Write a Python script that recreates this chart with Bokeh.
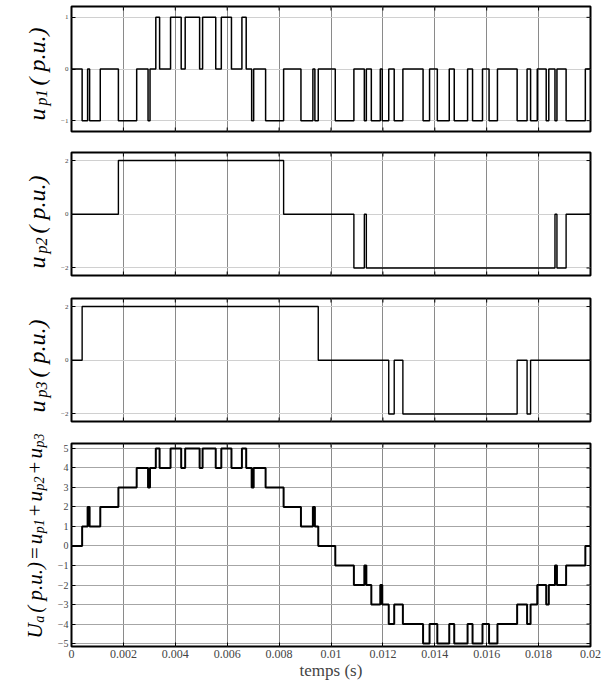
import bisect
from math import pi
from bokeh.plotting import figure
from bokeh.layouts import column, row
from bokeh.models import FixedTicker, LinearAxis, Range1d, Grid
from bokeh.core.properties import value
from bokeh.embed import file_html
from bokeh.resources import INLINE

# ---------------- data (switching instants in s, level held after each instant) -------------
up1_t = [0.0, 0.000410, 0.000621, 0.000698, 0.001109, 0.001807, 0.002512, 0.002950, 0.003026,
         0.003249, 0.003395, 0.003817, 0.004227, 0.004381, 0.004937, 0.005052, 0.005558,
         0.005773, 0.006164, 0.006567, 0.006732, 0.006943, 0.007020, 0.007480, 0.008174,
         0.008842, 0.009302, 0.009379, 0.009509, 0.010165, 0.010882, 0.011285, 0.011362,
         0.011554, 0.011899, 0.011976, 0.012225, 0.012436, 0.012770, 0.013548, 0.013798,
         0.014097, 0.014557, 0.014749, 0.015263, 0.015455, 0.015838, 0.016091, 0.016414,
         0.017173, 0.017556, 0.017691, 0.017948, 0.018293, 0.018393, 0.018631, 0.018707,
         0.019060, 0.019801]
up1_v = [0, -1, 0, -1, 0, -1, 0, -1, 0,
         1, 0, 1, 0, 1, 0, 1, 0,
         1, 0, 1, 0, -1, 0, -1, 0,
         -1, 0, -1, 0, -1, 0, -1, 0,
         -1, 0, -1, 0, -1, 0, -1, 0,
         -1, 0, -1, 0, -1, 0, -1, 0,
         -1, 0, -1, 0, -1, 0, -1, 0,
         -1, 0]

up2_t = [0.0, 0.001807, 0.008174, 0.010882, 0.011285, 0.011362, 0.018631, 0.018707, 0.019060]
up2_v = [0, 2, 0, -2, 0, -2, 0, -2, 0]

up3_t = [0.0, 0.000410, 0.009509, 0.012225, 0.012436, 0.012770, 0.017173, 0.017556, 0.017691]
up3_v = [0, 2, 0, -2, 0, -2, 0, -2, 0]

T_END = 0.02
x_ticks = [0.0, 0.002, 0.004, 0.006, 0.008, 0.01, 0.012, 0.014, 0.016, 0.018, 0.02]
x_tick_labels = ["0", "0.002", "0.004", "0.006", "0.008", "0.01", "0.012", "0.014",
                 "0.016", "0.018", "0.02"]
y1_ticks = [-1, 0, 1]
y2_ticks = [-2, 0, 2]
y3_ticks = [-2, 0, 2]
y4_ticks = [-5, -4, -3, -2, -1, 0, 1, 2, 3, 4, 5]
x_label = "temps (s)"


def level_at(ts, vs, t):
    return vs[bisect.bisect_right(ts, t) - 1]


# Ua = up1 + up2 + up3 (the definition given in the y label)
ua_t = sorted(set(up1_t + up2_t + up3_t))
ua_v = [level_at(up1_t, up1_v, t) + level_at(up2_t, up2_v, t) + level_at(up3_t, up3_v, t)
        for t in ua_t]

# ---------------- styling / layout -------------
FONT = "Liberation Serif"
LW = 54            # width of the strip holding the rotated y labels
B_LEFT = 15
B_RIGHT = 15
MW = B_LEFT + 521 + B_RIGHT   # width of each panel figure
H1, H2, H3, H4 = 141, 146, 145, 250
H_LAB = H1 + H2 + H3 + H4

# Times-like advance widths (em) for composing the rotated labels
ADV = {"u": 0.5, "p": 0.5, "a": 0.5, "U": 0.722, ".": 0.25, "(": 0.333, ")": 0.333,
       " ": 0.25, "1": 0.5, "2": 0.5, "3": 0.5, "=": 0.564, "+": 0.564}


def text_len(s, size):
    return sum(ADV.get(c, 0.5) for c in s) * size


def base_fig(w, h, xr, yr, borders):
    p = figure(width=w, height=h, x_range=Range1d(*xr), y_range=Range1d(*yr),
               title=None, output_backend="svg", toolbar_location=None,
               x_axis_location=None, y_axis_location=None,
               min_border_left=borders[0], min_border_right=borders[1],
               min_border_top=borders[2], min_border_bottom=borders[3])
    p.xgrid.visible = False
    p.ygrid.visible = False
    p.background_fill_color = "white"
    p.border_fill_color = "white"
    return p


def make_fig(height, b_top, b_bottom, yr, yticks, hgrid_color, ylab_size):
    p = base_fig(MW, height, (0, T_END), yr, (B_LEFT, B_RIGHT, b_top, b_bottom))
    p.outline_line_color = "black"
    p.outline_line_width = 2
    p.add_layout(Grid(dimension=0, ticker=FixedTicker(ticks=x_ticks),
                      grid_line_color="#8a8a8a", grid_line_width=1))
    p.add_layout(Grid(dimension=1, ticker=FixedTicker(ticks=yticks),
                      grid_line_color=hgrid_color, grid_line_width=1))
    ax = LinearAxis(ticker=FixedTicker(ticks=yticks), major_tick_in=4, major_tick_out=0,
                    minor_tick_line_color=None, axis_line_color=None,
                    major_label_text_font=FONT, major_label_text_font_size=ylab_size,
                    major_label_standoff=3)
    p.add_layout(ax, "left")
    # inward tick marks on the top and right edges
    p.scatter(x=x_ticks, y=[yr[1]] * len(x_ticks), marker="dash", angle=pi / 2,
              size=8, line_color="black", line_width=1)
    p.scatter(x=[T_END] * len(yticks), y=yticks, marker="dash", size=8,
              line_color="black", line_width=1)
    return p


def step_line(p, ts, vs, lw):
    p.step(x=ts + [T_END], y=vs + [vs[-1]], mode="after", line_color="black", line_width=lw)


Y1R, Y2R, Y3R, Y4R = (-1.21, 1.21), (-2.28, 2.3), (-2.28, 2.3), (-5.15, 5.25)
f1 = make_fig(H1, 6, 10, Y1R, y1_ticks, "#d0d0d0", "7px")
f2 = make_fig(H2, 11, 12, Y2R, y2_ticks, "#d0d0d0", "7px")
f3 = make_fig(H3, 11, 11, Y3R, y3_ticks, "#d0d0d0", "7px")
f4 = make_fig(H4, 11, 35, Y4R, y4_ticks, "#a6a6a6", "10px")

for f, yr in ((f1, Y1R), (f2, Y2R), (f3, Y3R)):
    f.scatter(x=x_ticks, y=[yr[0]] * len(x_ticks), marker="dash", angle=pi / 2,
              size=8, line_color="black", line_width=1)

bx = LinearAxis(ticker=FixedTicker(ticks=x_ticks), major_tick_in=4, major_tick_out=0,
                minor_tick_line_color=None, axis_line_color=None,
                major_label_overrides=dict(zip(x_ticks, x_tick_labels)),
                major_label_text_font=FONT, major_label_text_font_size="12px",
                major_label_standoff=3,
                axis_label=x_label, axis_label_text_font=FONT,
                axis_label_text_font_size="17px", axis_label_text_font_style="normal",
                axis_label_standoff=0)
f4.add_layout(bx, "below")

step_line(f1, up1_t, up1_v, 1.5)
step_line(f2, up2_t, up2_v, 1.4)
step_line(f3, up3_t, up3_v, 1.4)
step_line(f4, ua_t, ua_v, 2.0)

# ---------------- rotated y labels (composed pieces, page coordinates) -------------
lab = base_fig(LW, H_LAB, (0, LW), (0, H_LAB), (0, 0, 0, 0))
lab.outline_line_color = None


def vlabel(pieces, base_x, start_y):
    pos = start_y
    for text, size, italic, sub, gap in pieces:
        lab.text(x=[base_x + (5 if sub else 0)], y=[H_LAB - pos], text=[text], angle=pi / 2,
                 text_font=value(FONT), text_font_size=value(f"{size}px"),
                 text_font_style=value("italic" if italic else "normal"),
                 text_align=value("left"), text_baseline=value("alphabetic"),
                 text_color="black")
        pos -= text_len(text, size) + gap


vlabel([("u", 24, True, False, 3), ("p1", 16, True, True, 4),
        ("( p.u.)", 24, True, False, 0)], 36, 120)
vlabel([("u", 24, True, False, 3), ("p2", 16, True, True, 4),
        ("( p.u.)", 24, True, False, 0)], 36, 268)
vlabel([("u", 24, True, False, 3), ("p3", 16, True, True, 4),
        ("( p.u.)", 24, True, False, 0)], 36, 412)
vlabel([("U", 21, True, False, 0.5), ("a", 14, True, True, 3),
        ("( p.u.)", 21, True, False, 3), ("=", 21, False, False, 3),
        ("u", 21, True, False, 0.5), ("p1", 14, True, True, 3),
        ("+", 21, False, False, 3), ("u", 21, True, False, 0.5),
        ("p2", 14, True, True, 3), ("+", 21, False, False, 3),
        ("u", 21, True, False, 0.5), ("p3", 14, True, True, 0)], 34, 638)

layout = row(lab, column(f1, f2, f3, f4, spacing=0), spacing=0)
open("out.html", "w").write(file_html(layout, INLINE))
